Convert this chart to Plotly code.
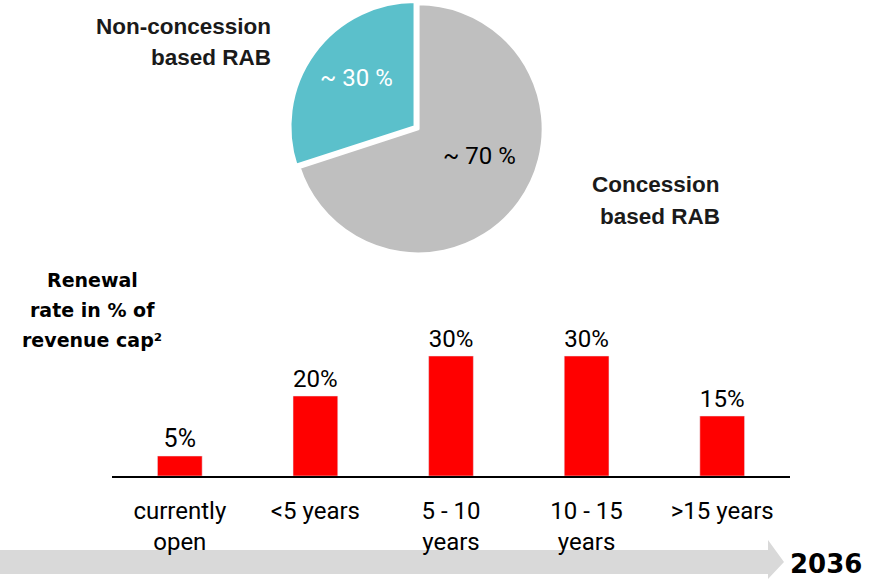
import plotly.graph_objects as go

# Pie data
pie_labels = ["Non-concession based RAB", "Concession based RAB"]
pie_values = [30, 70]
pie_colors = ["#5BC0CB", "#BFBFBF"]

# Bar data
categories = ["currently<br>open", "<5 years", "5 - 10<br>years", "10 - 15<br>years", ">15 years"]
renewal = [5, 20, 30, 30, 15]
bar_labels = [f"{v}%" for v in renewal]

FONT = "Roboto"

fig = go.Figure()

fig.add_trace(go.Pie(
    labels=pie_labels, values=pie_values, sort=False, direction="clockwise",
    rotation=252, marker=dict(colors=pie_colors, line=dict(color="white", width=3)),
    pull=[0.03, 0], textinfo="none", hoverinfo="label+percent",
    domain=dict(x=[0.325, 0.635], y=[0.555, 1.0]), showlegend=False,
))

fig.add_trace(go.Bar(
    x=list(range(len(categories))), y=renewal, marker_color="#FF0000", width=0.33,
    text=bar_labels, textposition="outside", cliponaxis=False,
    textfont=dict(family=FONT, size=25, color="#000000"), showlegend=False,
))

fig.update_layout(
    width=871, height=579, margin=dict(l=0, r=0, t=0, b=0),
    paper_bgcolor="white", plot_bgcolor="white",
    xaxis=dict(domain=[112/871, 790/871], range=[-0.5, 4.5], tickmode="array",
               tickvals=list(range(len(categories))), ticktext=categories,
               showline=True, linecolor="#000000", linewidth=1.5, showgrid=False,
               zeroline=False, ticks="", ticklabelstandoff=12,
               tickfont=dict(family=FONT, size=24, color="#000000")),
    yaxis=dict(domain=[1 - 476/579, 1 - 316/579], range=[0, 40], visible=False,
               showgrid=False, zeroline=False),
    font=dict(family=FONT),
)

def ann(x, y, text, font, align="center", xanchor="center"):
    fig.add_annotation(x=x/871, y=1 - y/579, xref="paper", yref="paper",
                       xanchor=xanchor, yanchor="middle", text=text,
                       showarrow=False, align=align, font=font)

# pie value labels
ann(356, 78, f"~ {pie_values[0]} %", dict(family=FONT, size=24, color="white"))
ann(479, 156, f"~ {pie_values[1]} %", dict(family=FONT, size=24, color="black"))

# pie category labels
bold_font = dict(family="Liberation Sans", size=22.5, color="#1a1a1a")
ann(273, 27, "<b>Non-concession</b>", bold_font, xanchor="right")
ann(273, 58, "<b>based RAB</b>", bold_font, xanchor="right")
ann(722, 185, "<b>Concession</b>", bold_font, xanchor="right")
ann(722, 216, "<b>based RAB</b>", bold_font, xanchor="right")

# bar chart title
title_lines = ["Renewal", "rate in % of", "revenue cap²"]
title_font = dict(family="DejaVu Sans", size=19, color="#000000")
for i, line in enumerate(title_lines):
    ann(92, 280 + 30 * i, f"<b>{line}</b>", title_font)

# timeline arrow
fig.add_shape(type="path", xref="paper", yref="paper", fillcolor="#D9D9D9",
              line=dict(width=0), layer="below",
              path=f"M 0 {1-550/579} L {768/871} {1-550/579} L {768/871} {1-540/579} "
                   f"L {784/871} {1-562/579} L {768/871} {1-579/579} L {768/871} {1-574/579} "
                   f"L 0 {1-574/579} Z")
ann(826, 564, "<b>2036</b>", dict(family="DejaVu Sans", size=26, color="#000000"))

fig.write_html("out.html")
